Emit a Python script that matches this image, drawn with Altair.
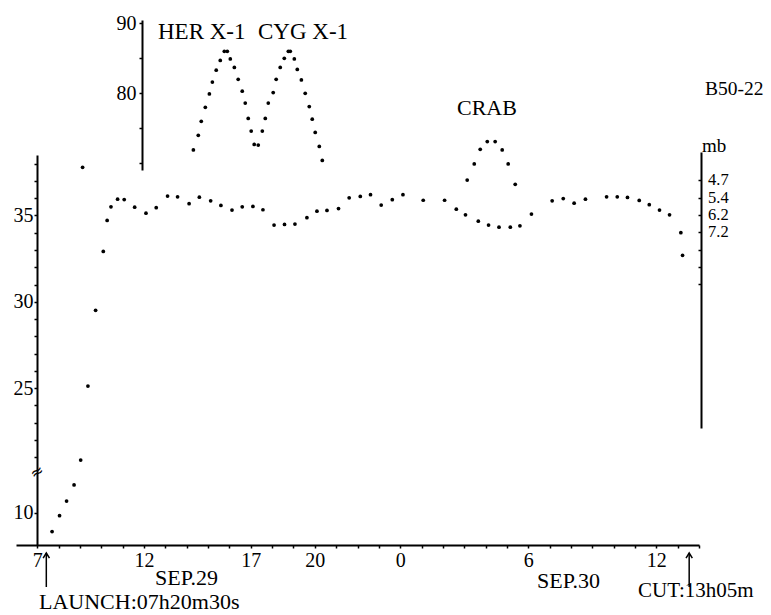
import altair as alt
import pandas as pd

# ---- Balloon altitude (hours from 0h Sep 29 ; km) ----
alt_hours = [7.69, 8.04, 8.37, 8.72, 9.03, 9.12, 9.37, 9.73, 10.09, 10.27,
             10.45, 10.76, 11.07, 11.56, 12.09, 12.57, 13.10, 13.57, 14.11, 14.59,
             15.12, 15.60, 16.12, 16.60, 17.10, 17.57, 18.09, 18.58, 19.07, 19.63,
             20.10, 20.57, 21.11, 21.61, 22.13, 22.61, 23.11, 23.63, 24.13, 25.08,
             26.08, 26.63, 27.06, 27.66, 28.14, 28.63, 29.16, 29.61, 30.15, 31.12,
             31.64, 32.15, 32.68, 33.67, 34.17, 34.65, 35.20, 35.67, 36.15, 36.62,
             37.15, 37.23]
alt_km = [8.92, 9.84, 10.69, 11.62, 20.84, 37.79, 25.12, 29.51, 32.92, 34.71,
          35.50, 35.94, 35.92, 35.48, 35.13, 35.45, 36.12, 36.08, 35.68, 36.06,
          35.85, 35.58, 35.31, 35.50, 35.52, 35.33, 34.44, 34.48, 34.50, 34.87,
          35.25, 35.29, 35.40, 36.02, 36.10, 36.20, 35.60, 35.91, 36.20, 35.88,
          35.88, 35.36, 35.04, 34.67, 34.44, 34.32, 34.32, 34.40, 35.08, 35.85,
          35.98, 35.71, 35.94, 36.08, 36.08, 36.04, 35.87, 35.62, 35.31, 35.04,
          34.00, 32.69]

# ---- Source elevations (deg) ----
her_hours = [14.31, 14.54, 14.68, 14.87, 15.06, 15.20, 15.38, 15.57, 15.76, 15.90,
             16.04, 16.23, 16.41, 16.60, 16.74, 16.88, 17.02, 17.16, 17.35]
her_elev = [71.9, 74.0, 76.0, 78.0, 79.9, 81.6, 83.3, 84.7, 86.0, 86.0,
            84.9, 83.7, 82.0, 80.3, 78.6, 76.4, 74.6, 72.7, 72.6]
cyg_hours = [17.54, 17.68, 17.82, 18.05, 18.19, 18.38, 18.57, 18.76, 18.85, 19.04,
             19.18, 19.37, 19.55, 19.74, 19.88, 20.02, 20.21, 20.35]
cyg_elev = [74.6, 76.4, 78.6, 80.1, 82.0, 83.7, 85.0, 86.0, 86.0, 84.9,
            83.4, 81.9, 80.0, 78.1, 76.3, 74.4, 72.4, 70.4]
crab_hours = [27.14, 27.47, 27.75, 28.08, 28.45, 28.78, 29.06, 29.39]
crab_elev = [67.6, 69.9, 72.0, 73.1, 73.1, 71.9, 69.9, 67.0]

# ---- Pressure scale (mb) at altitude (km) ----
mb_km = [37, 36, 35, 34]
mb_labels = ["4.7", "5.4", "6.2", "7.2"]

# ---- Event times (hours) ----
event_hours = [7.42, 37.54]

x_label_hours = [7, 12, 17, 20, 24, 30, 36]

SERIF = "Liberation Serif"
W, H = 683, 535

df_alt = pd.DataFrame({"t": alt_hours, "km": alt_km})
df_elev = pd.DataFrame({
    "t": her_hours + cyg_hours + crab_hours,
    "e": her_elev + cyg_elev + crab_elev,
})
df_mb = pd.DataFrame({"km": mb_km, "mb": mb_labels})
df_ev = pd.DataFrame({"t": event_hours})

x_scale = alt.Scale(domain=[6, 38], nice=False, zero=False)
x_axis = alt.Axis(
    title="", grid=False, values=list(range(7, 39)),
    labelExpr="indexof(" + str(x_label_hours) + ", datum.value) >= 0 ? format(datum.value % 24, 'd') : ''",
    labelOverlap=False, labelFlush=False, tickSize=3, tickWidth=1.5,
    domainWidth=2, labelPadding=2, labelFontSize=20, labelFont=SERIF,
)


def xenc():
    return alt.X("t:Q", scale=x_scale, axis=x_axis)


main = alt.Chart(df_alt).transform_calculate(
    disp="datum.km < 15 ? datum.km + 7.775 : datum.km"
).mark_circle(size=14, color="black", opacity=1).encode(
    x=xenc(),
    y=alt.Y(
        "disp:Q",
        scale=alt.Scale(domain=[15.92, 38.5], range=[535, 145], nice=False, zero=False),
        axis=alt.Axis(
            title="", grid=False, orient="left", offset=-21,
            values=[17.775] + list(range(21, 39)),
            labelExpr="datum.value < 20 ? '10' : ((datum.value % 5 == 0 && datum.value < 38) ? datum.label : '')",
            labelOverlap=False, labelFlush=False, tickSize=3, tickWidth=1.5,
            domainWidth=2, labelPadding=1, labelFontSize=20, labelFont=SERIF,
        ),
    ),
)

elev = alt.Chart(df_elev).mark_circle(size=14, color="black", opacity=1).encode(
    x=xenc(),
    y=alt.Y(
        "e:Q",
        scale=alt.Scale(domain=[69.04, 90.47], range=[160, 10], nice=False, zero=False),
        axis=alt.Axis(
            title="", grid=False, orient="left", offset=-126,
            values=[70, 75, 80, 85, 90],
            labelExpr="(datum.value == 80 || datum.value == 90) ? datum.label : ''",
            labelOverlap=False, labelFlush=False, tickSize=3, tickWidth=1.5,
            domainWidth=2, labelPadding=3, labelFontSize=20, labelFont=SERIF,
        ),
    ),
)

mb_layer = alt.Chart(df_mb).mark_text(
    align="left", baseline="middle", font=SERIF, fontSize=16.5, color="black"
).encode(
    x=alt.value(692),
    y=alt.Y(
        "km:Q",
        scale=alt.Scale(domain=[22.69, 38.64], range=[418, 142], nice=False, zero=False),
        axis=alt.Axis(
            title="", grid=False, orient="left", offset=-685,
            values=list(range(31, 38)), labels=False,
            tickSize=3, tickWidth=1.5, domainWidth=2,
        ),
    ),
    text="mb:N",
)

arrow_shaft = alt.Chart(df_ev).mark_rule(color="black", strokeWidth=1.5).encode(
    x=xenc(), y=alt.value(543), y2=alt.value(577)
)
arrow_head = alt.Chart(df_ev).mark_point(
    shape="M-1,1.6L0,0L1,1.6", filled=False, color="black", strokeWidth=1.5, size=40, opacity=1
).encode(x=xenc(), y=alt.value(543))


def label(text, x, y, size, align="left", baseline="alphabetic", angle=0, font=SERIF):
    kw = dict(align=align, baseline=baseline, font=font, fontSize=size, color="black")
    if angle:
        kw["angle"] = angle
    return alt.Chart(pd.DataFrame({"s": [text]})).mark_text(**kw).encode(
        x=alt.value(x), y=alt.value(y), text="s:N"
    )


texts = [
    label("HER X-1", 142, 29, 23),
    label("CYG X-1", 242, 29, 23),
    label("B50-22", 689, 85, 19.5),
    label("CRAB", 441, 105, 22),
    label("mb", 686, 142, 19),
    label("SEP.29", 139, 575, 22),
    label("SEP.30", 521, 578, 22),
    label("LAUNCH:07h20m30s", 23, 599, 22),
    label("CUT:13h05m", 622, 587, 21),
    label("≈", 21, 462, 16, align="center", baseline="middle", angle=330, font="DejaVu Sans"),
]

chart = alt.layer(main, elev, mb_layer, arrow_shaft, arrow_head, *texts).resolve_scale(
    y="independent"
).properties(
    width=W, height=H,
    autosize=alt.AutoSizeParams(type="none"),
    padding={"left": 16, "top": 10, "right": 72, "bottom": 70},
    background="white",
).configure_view(stroke=None).configure_axis(
    domainColor="black", tickColor="black", labelColor="black",
    labelOverlap=False, labelFlush=False,
)

chart.save("out.html", embed_options={"renderer": "svg", "actions": False})
